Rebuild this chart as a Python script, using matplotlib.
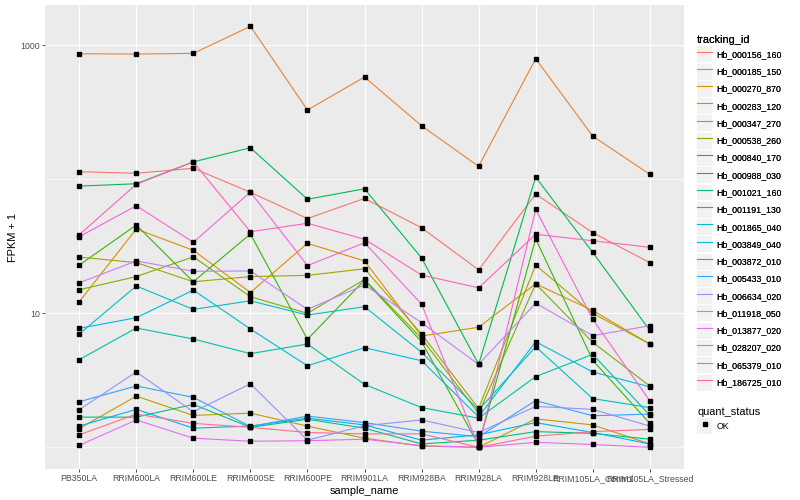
import numpy as np
import matplotlib
matplotlib.use("Agg")
import matplotlib.pyplot as plt
from matplotlib.lines import Line2D
from matplotlib.patches import Rectangle
from matplotlib.legend_handler import HandlerLine2D

plt.rcParams['font.family'] = ['Liberation Sans', 'DejaVu Sans']

samples = ["PB350LA", "RRIM600LA", "RRIM600LE", "RRIM600SE", "RRIM600PE",
           "RRIM901LA", "RRIM928BA", "RRIM928LA", "RRIM928LE",
           "RRIM105LA_Control", "RRIM105LA_Stressed"]

# FPKM + 1 per tracking id, one value per sample
hb_000156_160 = [114, 111, 121, 80, 51, 72, 43.5, 21.1, 77.6, 40, 23.9]
hb_000185_150 = [865, 861, 871, 1386, 329, 580, 251, 125, 794, 210, 109]
hb_000270_870 = [12.2, 42.6, 29.5, 14.3, 33.3, 24.6, 6.77, 7.87, 16.6, 10.5, 5.9]
hb_000283_120 = [1.38, 2.41, 1.73, 1.80, 1.44, 1.17, 1.02, 1.0, 1.63, 1.47, 1.06]
hb_000347_270 = [26.3, 23.9, 17.2, 18.8, 19.2, 21.5, 7.0, 1.95, 22.9, 10.0, 5.9]
hb_000538_260 = [15.0, 18.8, 26.4, 13.3, 10.0, 17.9, 6.5, 1.79, 16.6, 6.08, 2.87]
hb_000840_170 = [22.9, 45.6, 17.2, 39.1, 6.4, 17.7, 6.14, 1.04, 36, 4.46, 1.51]
hb_000988_030 = [89, 92.7, 135, 172, 71, 85, 25.9, 4.16, 104, 28.5, 7.47]
hb_001021_160 = [1.68, 1.68, 2.09, 1.41, 1.62, 1.39, 1.06, 1.13, 1.31, 1.27, 1.15]
hb_001191_130 = [4.51, 7.77, 6.43, 5.0, 5.9, 2.95, 1.98, 1.65, 3.37, 4.94, 1.74]
hb_001865_040 = [7.0, 16.0, 10.7, 12.4, 9.71, 11.2, 5.12, 1.90, 5.63, 2.31, 1.98]
hb_003849_040 = [7.73, 9.27, 14.9, 7.64, 4.06, 5.54, 4.43, 1.69, 6.14, 3.65, 2.83]
hb_003872_010 = [1.44, 1.92, 1.39, 1.44, 1.65, 1.47, 1.13, 1.24, 1.53, 1.29, 1.06]
hb_005433_010 = [2.19, 2.87, 2.36, 1.43, 1.71, 1.53, 1.32, 1.20, 2.23, 1.72, 1.77]
hb_006634_020 = [1.91, 3.65, 1.84, 2.98, 1.13, 1.45, 1.60, 1.29, 2.02, 1.92, 1.44]
hb_011918_050 = [16.9, 24.6, 20.6, 20.7, 10.7, 16.3, 8.51, 4.16, 11.9, 6.81, 8.08]
hb_013877_020 = [1.035, 1.60, 1.17, 1.11, 1.12, 1.15, 1.03, 1.0, 1.09, 1.05, 1.0]
hb_028207_020 = [37.3, 63.5, 33.9, 80.4, 22.7, 33.6, 11.7, 1.01, 59.7, 9.02, 2.22]
hb_065379_010 = [38.6, 91.8, 135, 40.6, 47, 35.7, 19.3, 15.5, 38.9, 34.8, 31.1]
hb_186725_010 = [1.24, 1.77, 1.51, 1.41, 1.29, 1.26, 1.26, 1.0, 1.21, 1.31, 1.36]

tracking_ids = ["Hb_000156_160", "Hb_000185_150", "Hb_000270_870", "Hb_000283_120",
                "Hb_000347_270", "Hb_000538_260", "Hb_000840_170", "Hb_000988_030",
                "Hb_001021_160", "Hb_001191_130", "Hb_001865_040", "Hb_003849_040",
                "Hb_003872_010", "Hb_005433_010", "Hb_006634_020", "Hb_011918_050",
                "Hb_013877_020", "Hb_028207_020", "Hb_065379_010", "Hb_186725_010"]
series = [hb_000156_160, hb_000185_150, hb_000270_870, hb_000283_120, hb_000347_270,
          hb_000538_260, hb_000840_170, hb_000988_030, hb_001021_160, hb_001191_130,
          hb_001865_040, hb_003849_040, hb_003872_010, hb_005433_010, hb_006634_020,
          hb_011918_050, hb_013877_020, hb_028207_020, hb_065379_010, hb_186725_010]

colors = ["#F8766D", "#EA8331", "#D89000", "#C09B00", "#A3A500", "#7CAE00", "#39B600",
          "#00BB4E", "#00BF7D", "#00C1A3", "#00BFC4", "#00BAE0", "#00B0F6", "#35A2FF",
          "#9590FF", "#C77CFF", "#E76BF3", "#FA62DB", "#FF62BC", "#FF6C91"]


class KeyHandler(HandlerLine2D):
    # grey key box behind the legend glyph, like ggplot
    def create_artists(self, legend, orig_handle, xdescent, ydescent,
                       width, height, fontsize, trans):
        arts = super().create_artists(legend, orig_handle, xdescent, ydescent,
                                      width, height, fontsize, trans)
        box = Rectangle((-xdescent, -ydescent), width, height,
                        facecolor="#F2F2F2", edgecolor="none", transform=trans)
        return [box] + list(arts)


fig = plt.figure(figsize=(8, 5), dpi=100)
ax = fig.add_axes([45/800, 1-469/500, 639/800, 464/500])
ax.set_facecolor("#EBEBEB")

x = np.arange(len(samples))
handles = []
for vals, c, name in zip(series, colors, tracking_ids):
    ln, = ax.plot(x, vals, color=c, lw=0.8, zorder=2)
    handles.append(ln)
for vals in series:
    ax.plot(x, vals, ls="none", marker="s", ms=2.4, color="black", zorder=3)

ax.set_yscale("log")
ax.set_ylim(0.689, 2000)
ax.set_xlim(-0.6, len(samples) - 0.4)
ax.set_yticks([10, 1000])
ax.set_yticklabels(["10", "1000"])
ax.set_yticks([1, 100], minor=True)
ax.set_yticklabels([], minor=True)
ax.set_xticks(x)
ax.set_xticklabels(samples)
ax.xaxis.set_minor_locator(matplotlib.ticker.NullLocator())
ax.grid(which="major", color="white", lw=0.85)
ax.grid(which="minor", axis="y", color="white", lw=0.45)
ax.set_axisbelow(True)
for s in ax.spines.values():
    s.set_visible(False)
ax.tick_params(which="major", length=2, width=0.6, color="#333333",
               labelcolor="#4D4D4D", labelsize=6.3, pad=1.8)
ax.tick_params(which="minor", length=0)
ax.set_xlabel("sample_name", fontsize=7.9, labelpad=2)
ax.set_ylabel("FPKM + 1", fontsize=7.9, labelpad=1.5)

leg_kw = dict(loc="upper left", frameon=False, title_fontsize=7.9, fontsize=6.3,
              handlelength=1.75, handleheight=2.43, labelspacing=0.15,
              handletextpad=0.5, borderpad=0, borderaxespad=0,
              alignment="left", handler_map={Line2D: KeyHandler()})
leg1 = fig.legend(handles, tracking_ids, bbox_to_anchor=(697/800, 1-35/500),
                  title="tracking_id", **leg_kw)
fig.add_artist(leg1)
ok = Line2D([], [], ls="none", marker="s", ms=2.4, color="black")
fig.legend([ok], ["OK"], bbox_to_anchor=(697/800, 1-407/500),
           title="quant_status", **leg_kw)

fig.savefig("out.png", dpi=100)
